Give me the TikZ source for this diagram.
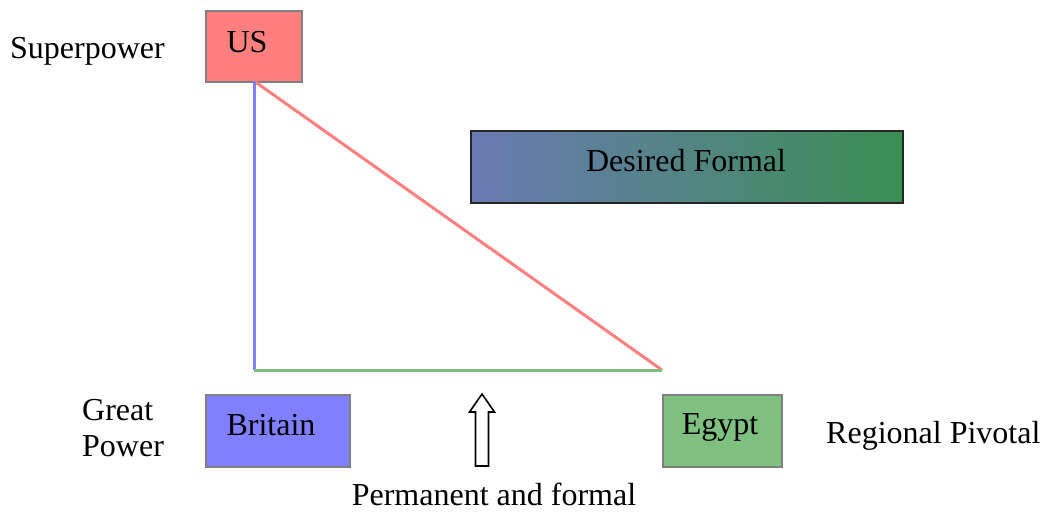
\documentclass[tikz,border=0pt]{standalone}
\usepackage{fontspec}
\setmainfont{Liberation Serif}
\definecolor{usred}{HTML}{FF7F7F}
\definecolor{brblue}{HTML}{7F7FFF}
\definecolor{eggreen}{HTML}{7FBF7F}
\definecolor{boxgray}{HTML}{808080}
\definecolor{gradleft}{HTML}{6A7AB4}
\definecolor{gradright}{HTML}{3A8F52}
\tikzset{
  country/.style={draw=boxgray, line width=2pt, anchor=north west, inner sep=0pt},
  label text/.style={font=\fontsize{32}{36}\selectfont, inner sep=0pt, text=black},
  tie/.style={line width=3pt}
}
\begin{document}
\begin{tikzpicture}[x=1pt,y=-1pt]
\useasboundingbox (0,0) rectangle (1048,511);

% country boxes
\node[country, fill=usred, minimum width=96pt, minimum height=71pt] (US) at (205,10) {};
\node[country, fill=brblue, minimum width=144pt, minimum height=72pt] (Britain) at (205,394) {};
\node[country, fill=eggreen, minimum width=119pt, minimum height=72pt] (Egypt) at (662,394) {};

\node[label text] (UStext) at (247,42) {US};
\node[label text] (Britaintext) at (271,425) {Britain};
\node[label text] (Egypttext) at (720,427) {Egypt};

% desired formal box with gradient fill
\node[draw=black!85, line width=2pt, left color=gradleft, right color=gradright,
      anchor=north west, minimum width=432pt, minimum height=72pt, inner sep=0pt] (Desired) at (470,130) {};
\node[label text] (Desiredtext) at (686,161) {Desired Formal};

% triangle of ties
\coordinate (corner) at (254,370);
\coordinate (pivot) at (662,370);
\coordinate (apex) at (254,81);
\draw[tie, usred] (apex) -- (pivot);
\draw[tie, brblue] (apex) -- (corner);
\draw[tie, eggreen] (corner) -- (pivot);

% hollow upward block arrow
\coordinate (arrowtip) at (482,394);
\draw[line width=1.6pt, fill=white, line join=miter]
  (arrowtip) -- (494.5,412) -- (488.5,412) -- (488.5,466) -- (475.5,466)
  -- (475.5,412) -- (469.5,412) -- cycle;

% side labels
\node[label text, anchor=west] (super) at (10,51) {Superpower};
\node[label text, align=left, anchor=west] (great) at (82,428) {Great\\Power};
\node[label text, anchor=west] (regional) at (826,436) {Regional Pivotal};
\node[label text] (perm) at (494,494) {Permanent and formal};
\end{tikzpicture}
\end{document}
